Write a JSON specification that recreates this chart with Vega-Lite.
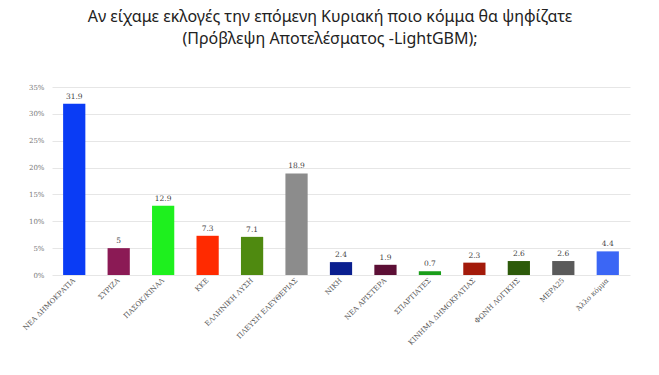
{
  "$schema": "https://vega.github.io/schema/vega-lite/v6.json",
  "width": 578,
  "height": 188,
  "autosize": {"type": "none"},
  "padding": {"left": 52, "top": 87, "right": 29, "bottom": 100},
  "background": "white",
  "title": {
    "text": ["Αν είχαμε εκλογές την επόμενη Κυριακή ποιο κόμμα θα ψηφίζατε", "(Πρόβλεψη Αποτελέσματος -LightGBM);"],
    "font": "Noto Sans",
    "fontSize": 16,
    "fontWeight": "normal",
    "color": "#222222",
    "anchor": "middle",
    "dx": -11,
    "offset": 36,
    "lineHeight": 22
  },
  "data": {
    "values": [
      {"party": "ΝΕΑ ΔΗΜΟΚΡΑΤΙΑ", "value": 31.9, "color": "#0a3cf5"},
      {"party": "ΣΥΡΙΖΑ", "value": 5, "color": "#8b1a55"},
      {"party": "ΠΑΣΟΚ/ΚΙΝΑΛ", "value": 12.9, "color": "#1ef01e"},
      {"party": "ΚΚΕ", "value": 7.3, "color": "#ff2a00"},
      {"party": "ΕΛΛΗΝΙΚΗ ΛΥΣΗ", "value": 7.1, "color": "#4f8a10"},
      {"party": "ΠΛΕΥΣΗ ΕΛΕΥΘΕΡΙΑΣ", "value": 18.9, "color": "#8c8c8c"},
      {"party": "ΝΙΚΗ", "value": 2.4, "color": "#0a1f8f"},
      {"party": "ΝΕΑ ΑΡΙΣΤΕΡΑ", "value": 1.9, "color": "#5c0f35"},
      {"party": "ΣΠΑΡΤΙΑΤΕΣ", "value": 0.7, "color": "#1a9e1a"},
      {"party": "ΚΙΝΗΜΑ ΔΗΜΟΚΡΑΤΙΑΣ", "value": 2.3, "color": "#a31a0a"},
      {"party": "ΦΩΝΗ ΛΟΓΙΚΗΣ", "value": 2.6, "color": "#2d5a0a"},
      {"party": "ΜΕΡΑ25", "value": 2.6, "color": "#5a5a5a"},
      {"party": "Άλλο κόμμα", "value": 4.4, "color": "#3b66f5"}
    ]
  },
  "encoding": {
    "x": {
      "field": "party",
      "type": "nominal",
      "sort": null,
      "scale": {"paddingInner": 0.5, "paddingOuter": 0.25},
      "axis": {
        "title": null,
        "labelAngle": -45,
        "labelAlign": "right",
        "labelBaseline": "middle",
        "labelFont": "DejaVu Serif",
        "labelFontSize": 7,
        "labelColor": "#555555",
        "labelPadding": 4,
        "ticks": false,
        "domain": false
      }
    },
    "y": {
      "field": "value",
      "type": "quantitative",
      "scale": {"domain": [0, 35]},
      "axis": {
        "title": null,
        "values": [0, 5, 10, 15, 20, 25, 30, 35],
        "labelExpr": "datum.value + '%'",
        "labelFont": "DejaVu Serif",
        "labelFontSize": 7,
        "labelColor": "#777777",
        "labelPadding": 8,
        "ticks": false,
        "domain": false,
        "gridColor": "#e6e6e6",
        "gridWidth": 1
      }
    }
  },
  "layer": [
    {
      "mark": {"type": "bar"},
      "encoding": {
        "color": {"field": "color", "type": "nominal", "scale": null}
      }
    },
    {
      "mark": {"type": "text", "dy": -7, "font": "DejaVu Serif", "fontSize": 7.5, "color": "#444444"},
      "encoding": {
        "text": {"field": "value", "type": "quantitative"}
      }
    }
  ],
  "config": {"view": {"stroke": null}}
}
